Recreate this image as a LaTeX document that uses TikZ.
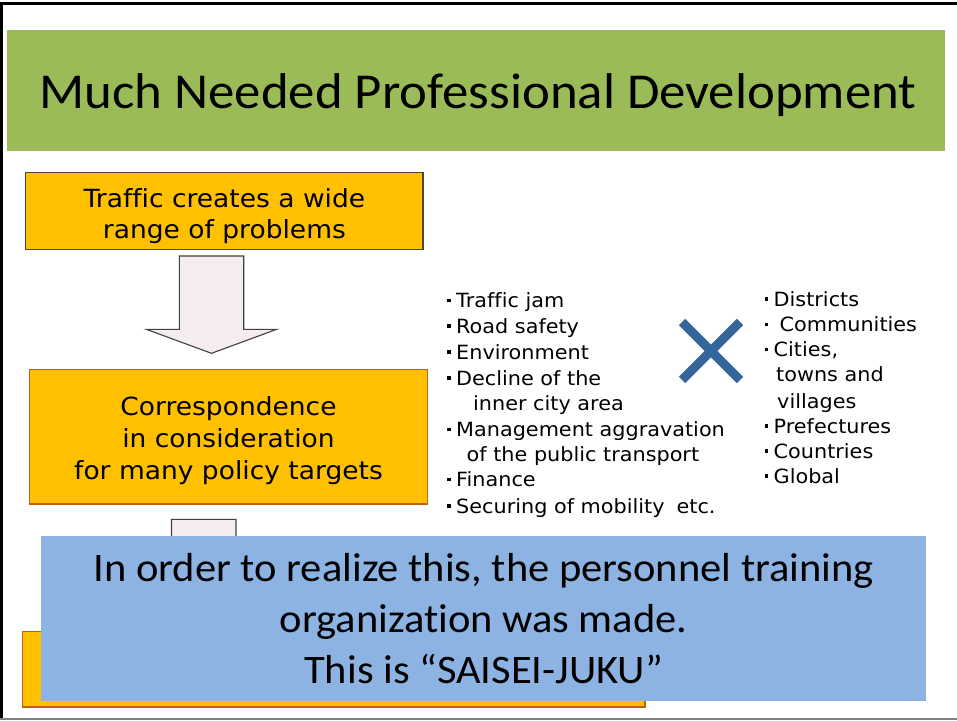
\documentclass[tikz,border=0pt]{standalone}
\usepackage{fontspec}
\setmainfont{Carlito}[Ligatures=NoCommon]
\newfontfamily\wide[FakeStretch=1.05,Ligatures=NoCommon]{Carlito}
\newfontfamily\verd[FakeStretch=1.06,Ligatures=NoCommon]{DejaVu Sans}
\definecolor{titlegreen}{HTML}{9BBB59}
\definecolor{boxorange}{HTML}{FFC000}
\definecolor{boxedge}{HTML}{C0601A}
\definecolor{darkedge}{HTML}{4F4633}
\definecolor{arrowfill}{HTML}{F5EDED}
\definecolor{arrowline}{HTML}{404040}
\definecolor{noteblue}{HTML}{8DB3E2}
\definecolor{crossblue}{HTML}{34669C}
\newcommand\lbul{\raisebox{5.5pt}{\rule{3.5pt}{3.5pt}}\hspace{5.5pt}}
\begin{document}
\begin{tikzpicture}[x=1pt,y=-1pt,
  titlebar/.style={fill=titlegreen,draw=none,inner sep=0pt,minimum width=938pt,minimum height=120.5pt},
  titletext/.style={anchor=base,inner sep=0pt,font=\wide\fontsize{50.3}{58}\selectfont},
  flowbox/.style={fill=boxorange,draw=boxedge,line width=1.3pt,inner sep=0pt,align=center,
    font=\verd\fontsize{25}{31.8}\selectfont},
  blockarrow/.style={fill=arrowfill,draw=arrowline,line width=1.1pt,line join=miter},
  listline/.style={anchor=base west,inner sep=0pt,font=\verd\fontsize{19.6}{25}\selectfont},
  notebox/.style={fill=noteblue,draw=none,inner sep=0pt,align=center,
    minimum width=884.5pt,minimum height=165pt,font=\wide\fontsize{40.5}{51}\selectfont},
  crossmark/.style={draw=crossblue,line width=9pt,line cap=butt},
  frameline/.style={line width=2.7pt,draw=black}]
\useasboundingbox (0,0) rectangle (957,720);

% title bar
\node[titlebar] (bar) at (476,90.3) {};
\node[titletext] (title) at (478,108.3) {Much Needed Professional Development};

% flow of boxes on the left
\node[flowbox,draw=darkedge,minimum width=397.3pt,minimum height=76.6pt] (problems) at (224.4,211)
  {\rule{0pt}{29pt}Traffic creates a wide\\range of problems};
\draw[blockarrow] (179.3,256) -- (243.7,256) -- (243.7,329.3) -- (276.7,329.3)
  -- (211.5,353.3) -- (146.3,329.3) -- (179.3,329.3) -- cycle;
\node[flowbox,minimum width=398.4pt,minimum height=134.7pt] (targets) at (228.5,436.7)
  {\rule{0pt}{27pt}Correspondence\\in consideration\\for many policy targets};

% problems list
\node[listline] (p1) at (447,307.7) {\lbul Traffic jam};
\node[listline] (p2) at (447,333) {\lbul Road safety};
\node[listline] (p3) at (447,359) {\lbul Environment};
\node[listline] (p4) at (447,385) {\lbul Decline of the};
\node[listline] (p4b) at (473,410) {inner city area};
\node[listline] (p5) at (447,436.7) {\lbul Management aggravation};
\node[listline] (p5b) at (466.5,461.7) {of the public transport};
\node[listline] (p6) at (447,486.7) {\lbul Finance};
\node[listline] (p7) at (447,513.3) {\lbul Securing of mobility\hspace{12pt}etc.};

% cross between the two lists
\draw[crossmark] (682,322) -- (740,380);
\draw[crossmark] (740,322) -- (682,380);

% scale list
\node[listline] (s1) at (764.5,306) {\lbul Districts};
\node[listline] (s2) at (764.5,331.7) {\lbul\hspace{6pt}Communities};
\node[listline] (s3) at (764.5,356.7) {\lbul Cities,};
\node[listline] (s3b) at (776,381.7) {towns and};
\node[listline] (s3c) at (777,408.3) {villages};
\node[listline] (s4) at (764.5,433.3) {\lbul Prefectures};
\node[listline] (s5) at (764.5,458.3) {\lbul Countries};
\node[listline] (s6) at (764.5,483.3) {\lbul Global};

% second arrow and last box, mostly under the note
\draw[blockarrow] (171.5,519.3) -- (236,519.3) -- (236,595) -- (269,595)
  -- (203.75,619) -- (138.5,595) -- (171.5,595) -- cycle;
\node[flowbox,minimum width=622.4pt,minimum height=75.3pt] (result) at (333.8,669.4) {};

% overlay note
\node[notebox] (note) at (483.7,618.5)
  {In order to realize this, the personnel training\\organization was made.\\This is “SAISEI-JUKU”};

% page frame
\draw[frameline] (0,3.3) -- (957,3.3);
\draw[frameline] (1.3,2) -- (1.3,720);
\draw[line width=2pt,draw=gray] (0,719) -- (957,719);
\end{tikzpicture}
\end{document}
